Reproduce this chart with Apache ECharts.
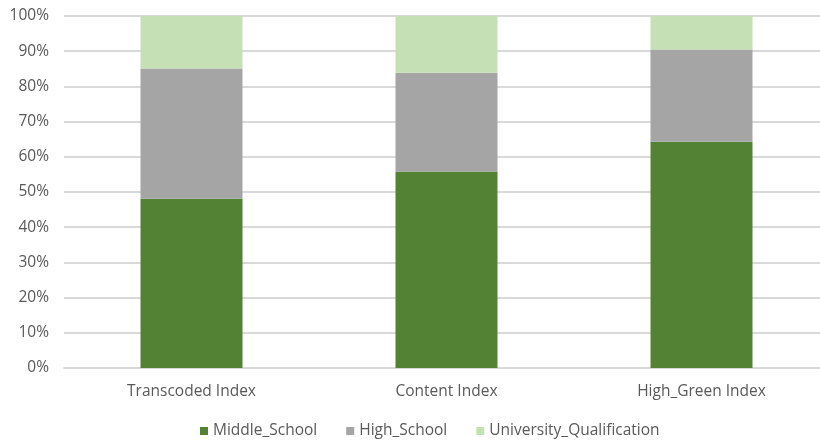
<!DOCTYPE html>
<html>
<head>
<meta charset="utf-8">
<script src="https://cdn.jsdelivr.net/npm/echarts@6/dist/echarts.min.js"></script>
<style>
  html, body { margin: 0; padding: 0; background: #ffffff; overflow: hidden; }
  #chart { width: 830px; height: 442px; }
</style>
</head>
<body>
<div id="chart"></div>
<script>
// Share of each education level per index (percent of total)
var categories = ['Transcoded Index', 'Content Index', 'High_Green Index'];
var middleSchool = [48.1, 55.8, 64.3];
var highSchool = [37.0, 28.1, 26.2];
var universityQualification = [14.9, 16.1, 9.5];
var yTicks = [0, 10, 20, 30, 40, 50, 60, 70, 80, 90, 100];

var FONT = '"Open Sans", "Noto Sans", sans-serif';
var TEXT = '#595959';

var chart = echarts.init(document.getElementById('chart'), null, { renderer: 'canvas' });

function barSeries(name, data, color) {
  return {
    name: name,
    type: 'bar',
    stack: 'total',
    barWidth: 102,
    data: data,
    itemStyle: { color: color },
    emphasis: { disabled: true }
  };
}

chart.setOption({
  animation: false,
  textStyle: { fontFamily: FONT },
  grid: { left: 64, top: 16, width: 765, height: 352, containLabel: false },
  legend: {
    data: ['Middle_School', 'High_School', 'University_Qualification'],
    top: 418,
    left: 195,
    icon: 'rect',
    itemWidth: 8,
    itemHeight: 8,
    itemGap: 29,
    textStyle: { color: TEXT, fontSize: 15.5, fontFamily: FONT }
  },
  xAxis: {
    type: 'category',
    data: categories,
    axisLine: { lineStyle: { color: '#d9d9d9', width: 2 } },
    axisTick: { show: false },
    axisLabel: { color: TEXT, fontSize: 15.5, margin: 16, fontFamily: FONT }
  },
  yAxis: {
    type: 'value',
    min: yTicks[0],
    max: yTicks[yTicks.length - 1],
    interval: 10,
    axisLine: { show: false },
    axisTick: { show: false },
    splitLine: { lineStyle: { color: '#d9d9d9', width: 2 } },
    axisLabel: {
      color: TEXT,
      fontSize: 15.5,
      margin: 15,
      fontFamily: FONT,
      formatter: function (v) { return v + '%'; }
    }
  },
  series: [
    barSeries('Middle_School', middleSchool, '#548235'),
    barSeries('High_School', highSchool, '#a5a5a5'),
    barSeries('University_Qualification', universityQualification, '#c5e0b4')
  ]
});
</script>
</body>
</html>
